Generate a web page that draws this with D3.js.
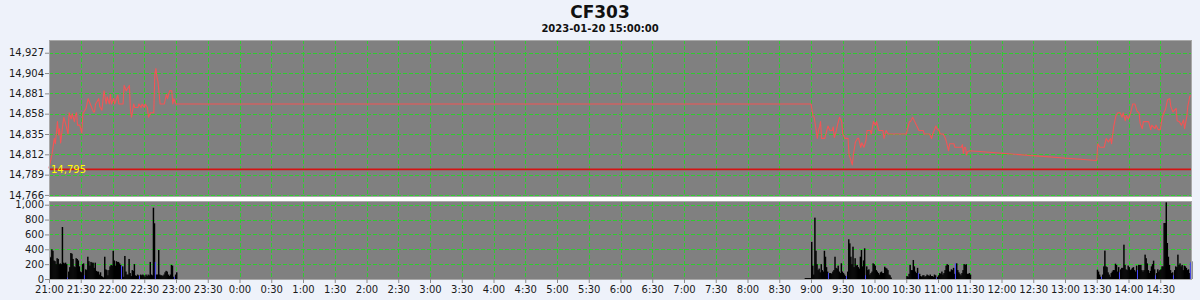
<!DOCTYPE html>
<html>
<head>
<meta charset="utf-8">
<script src="https://cdn.jsdelivr.net/npm/d3@7"></script>
<style>
  body { margin: 0; background: #eef2fa; }
  svg { display: block; font-family: "DejaVu Sans", sans-serif; }
</style>
</head>
<body>
<svg id="chart" width="1200" height="300"></svg>
<script>
// Chart text
const title = "CF303";
const subtitle = "2023-01-20 15:00:00";

// Axis ticks
const priceTicks = [14766, 14789, 14812, 14835, 14858, 14881, 14904, 14927];
const volumeTicks = [0, 200, 400, 600, 800, 1000];
const refPrice = 14795;

// Price line (minute closes, night session then day session)
const priceTimes = [
  "21:00","21:03","21:05","21:06","21:08","21:09","21:10","21:11","21:13","21:14",
  "21:16","21:18","21:19","21:21","21:22","21:24","21:25","21:26","21:27","21:29",
  "21:31","21:32","21:35","21:37","21:39","21:42","21:43","21:44","21:47","21:48",
  "21:50","21:52","21:54","21:55","21:57","21:58","21:59","22:01","22:02","22:05",
  "22:06","22:10","22:11","22:13","22:14","22:16","22:17","22:18","22:20","22:21",
  "22:24","22:25","22:27","22:28","22:30","22:31","22:33","22:34","22:36","22:39",
  "22:40","22:41","22:42","22:43","22:45","22:49","22:51","22:52","22:54","22:56",
  "22:57","22:58","23:00",
  "9:00","9:02","9:03","9:06","9:07","9:08","9:09","9:10","9:13","9:15",
  "9:16","9:18","9:20","9:21","9:22","9:24","9:25","9:27","9:29","9:30",
  "9:32","9:35","9:36","9:37","9:39","9:40","9:42","9:44","9:45","9:47",
  "9:48","9:50","9:52","9:53","9:56","9:57","9:59","10:01","10:02","10:04",
  "10:08","10:09","10:11","10:13","10:30","10:33","10:34","10:36","10:38","10:40",
  "10:42","10:46","10:47","10:52","10:54","10:55","10:58","10:59","11:01","11:02",
  "11:05","11:07","11:08","11:10","11:11","11:15","11:16","11:22","11:23","11:24",
  "11:25","11:26","11:27","11:28","11:30",
  "13:30","13:31","13:33","13:37","13:39","13:41","13:43","13:44","13:46","13:48",
  "13:50","13:52","13:54","13:55","13:57","13:58","14:00","14:02","14:04","14:06",
  "14:08","14:10","14:11","14:13","14:14","14:19","14:21","14:22","14:25","14:26",
  "14:28","14:30","14:32","14:33","14:35","14:36","14:37","14:39","14:40","14:42",
  "14:45","14:46","14:48","14:50","14:52","14:53","14:55","14:56","14:58","14:59"
];
const priceValues = [
  14796,14813,14830,14824,14849,14834,14841,14825,14845,14854,
  14845,14835,14859,14852,14858,14849,14856,14859,14845,14845,
  14836,14858,14864,14875,14869,14860,14860,14869,14875,14866,
  14862,14884,14869,14877,14869,14880,14869,14875,14869,14879,
  14869,14869,14890,14884,14886,14890,14862,14854,14869,14865,
  14865,14869,14865,14869,14865,14869,14865,14854,14859,14859,
  14903,14909,14899,14894,14869,14869,14880,14875,14884,14884,
  14869,14875,14869,
  14869,14855,14854,14830,14839,14843,14849,14830,14830,14839,
  14844,14839,14839,14843,14831,14839,14845,14854,14849,14835,
  14830,14830,14811,14808,14800,14811,14826,14830,14830,14820,
  14825,14820,14828,14839,14839,14835,14849,14845,14849,14839,
  14839,14830,14839,14835,14835,14849,14849,14854,14849,14844,
  14839,14839,14835,14835,14830,14835,14844,14841,14839,14835,
  14835,14830,14826,14816,14824,14824,14820,14820,14823,14813,
  14820,14820,14811,14815,14816,
  14805,14824,14820,14820,14830,14826,14830,14824,14843,14855,
  14859,14859,14854,14859,14850,14856,14852,14859,14869,14869,
  14861,14859,14847,14841,14849,14849,14840,14845,14841,14845,
  14840,14840,14854,14858,14863,14869,14874,14875,14866,14860,
  14864,14850,14849,14845,14851,14841,14854,14866,14878,14878
];

// Volume per minute, one array per trading segment
const volStarts = ["21:00", "8:54", "9:00", "10:30", "13:30"];
const volNight = [
  300,290,400,380,250,240,200,280,270,200,210,200,700,220,210,220,200,20,100,160,
  350,340,270,170,160,280,270,250,170,100,90,200,210,50,130,120,300,240,180,230,
  220,220,150,220,110,100,100,60,90,40,30,20,300,130,120,50,120,170,190,180,
  380,250,180,240,230,230,210,190,180,170,30,310,100,60,60,270,80,40,120,110,
  200,50,40,60,50,40,60,50,60,50,30,60,40,60,50,230,60,50,960,750,
  230,60,60,390,60,50,50,40,60,90,110,100,60,40,60,190,180,30,30,60,90
];
const volPreOpen = [12, 12, 12, 12, 12, 12];
const volMorning1 = [
  500,180,60,826,380,200,120,140,90,200,120,100,380,300,160,100,80,80,80,70,
  100,120,300,150,140,180,100,80,211,100,80,60,40,40,100,534,480,300,200,435,
  160,280,180,190,160,140,300,390,170,250,413,50,170,120,130,60,80,100,211,200,
  180,120,100,80,60,90,100,80,80,166,150,140,120,60,50,20
];
const volMorning2 = [
  40,30,70,190,120,120,256,170,100,80,150,80,70,40,30,50,50,30,40,60,
  50,40,60,40,40,30,60,50,20,30,50,80,70,100,60,80,120,180,200,190,
  100,100,130,120,150,70,211,211,120,90,70,50,80,120,200,190,200,70,70,80,60
];
const volAfternoon = [
  125,100,60,30,30,60,170,382,170,160,90,60,30,80,100,120,120,206,190,100,
  160,90,130,150,150,462,190,130,120,180,160,120,130,150,160,120,100,180,120,190,
  190,190,120,100,120,328,280,210,120,80,110,170,200,247,130,50,80,130,100,120,
  130,170,170,754,754,1032,485,300,190,120,80,90,50,120,170,160,328,190,210,170,
  190,120,180,170,150,120,130,80,224,238
];
const blueBarTimes = [
  "21:17","21:33","22:08","22:25","22:40","22:58",
  "9:16","9:33","9:51","10:41","10:58","11:16",
  "13:34","13:51","14:08","14:25","14:42","14:58"
];

// Turn "H:MM" into a date: evening hours belong to the previous day
function parseT(s) {
  const [h, m] = s.split(":").map(Number);
  return new Date(2023, 0, h >= 21 ? 19 : 20, h, m);
}
function addMin(d, n) {
  return new Date(d.getTime() + n * 60000);
}

const svg = d3.select("#chart");
const left = 49, right = 1192;
const priceTop = 40, priceBottom = 197;
const volTop = 201, volBottom = 279;
const gridColor = "#2fcc2f";

const x = d3.scaleTime()
  .domain([parseT("21:00"), parseT("15:00")])
  .range([left, right]);
const yPrice = d3.scaleLinear().domain([14763.7, 14941.4]).range([priceBottom, priceTop]);
const yVol = d3.scaleLinear().domain([0, 1050]).range([volBottom, volTop]);

const timeTicks = d3.timeMinute.every(30).range(parseT("21:00"), parseT("15:00"));

// Titles
svg.append("text").attr("x", 600).attr("y", 18).attr("text-anchor", "middle")
  .attr("font-size", 17).attr("font-weight", "bold").attr("fill", "#111").text(title);
svg.append("text").attr("x", 600).attr("y", 32).attr("text-anchor", "middle")
  .attr("font-size", 10).attr("font-weight", "bold").attr("fill", "#111").text(subtitle);

// Panel backgrounds
svg.append("rect").attr("x", left).attr("y", priceTop)
  .attr("width", right - left).attr("height", priceBottom - priceTop).attr("fill", "#808080");
svg.append("rect").attr("x", left).attr("y", priceBottom)
  .attr("width", right - left).attr("height", volTop - priceBottom).attr("fill", "#ffffff");
svg.append("rect").attr("x", left).attr("y", volTop)
  .attr("width", right - left).attr("height", volBottom - volTop).attr("fill", "#808080");

// Grid lines
const grid = svg.append("g").attr("stroke", gridColor).attr("stroke-width", 1)
  .attr("stroke-dasharray", "4,2").attr("shape-rendering", "crispEdges");
grid.selectAll(".hp").data(priceTicks).join("line")
  .attr("x1", left).attr("x2", right)
  .attr("y1", d => Math.round(yPrice(d)) + 0.5).attr("y2", d => Math.round(yPrice(d)) + 0.5);
grid.selectAll(".hv").data(volumeTicks.slice(1)).join("line")
  .attr("x1", left).attr("x2", right)
  .attr("y1", d => Math.round(yVol(d)) + 0.5).attr("y2", d => Math.round(yVol(d)) + 0.5);
[[priceTop, priceBottom], [volTop, volBottom]].forEach(([t, b]) => {
  grid.append("g").selectAll("line").data(timeTicks.slice(1)).join("line")
    .attr("x1", d => Math.round(x(d)) + 0.5).attr("x2", d => Math.round(x(d)) + 0.5)
    .attr("y1", t).attr("y2", b);
});

// Reference price line and label
svg.append("line").attr("x1", left).attr("x2", right)
  .attr("y1", yPrice(refPrice)).attr("y2", yPrice(refPrice))
  .attr("stroke", "#d41414").attr("stroke-width", 1.6);
svg.append("text").attr("x", left + 2).attr("y", yPrice(refPrice) + 3.5)
  .attr("font-size", 10).attr("fill", "#ffff00").text(d3.format(",")(refPrice));

// Price line
const priceData = priceTimes.map((t, i) => ({ t: parseT(t), v: priceValues[i] }));
const line = d3.line().x(d => x(d.t)).y(d => yPrice(d.v));
svg.append("path").datum(priceData)
  .attr("fill", "none").attr("stroke", "#f25555").attr("stroke-width", 1.1)
  .attr("stroke-linejoin", "round").attr("d", line);

// Volume bars
const blueSet = new Set(blueBarTimes.map(t => +parseT(t)));
const volArrays = [volNight, volPreOpen, volMorning1, volMorning2, volAfternoon];
const volData = [];
volArrays.forEach((arr, k) => {
  const start = parseT(volStarts[k]);
  arr.forEach((v, i) => volData.push({ t: addMin(start, i), v: v }));
});
svg.append("g").selectAll("rect").data(volData).join("rect")
  .attr("x", d => x(d.t))
  .attr("width", d => blueSet.has(+d.t) ? 1 : x(addMin(d.t, 1)) - x(d.t) + 0.4)
  .attr("y", d => yVol(d.v))
  .attr("height", d => Math.max(0.8, volBottom - yVol(d.v)))
  .attr("fill", d => blueSet.has(+d.t) ? "#4646ff" : "#000000");

// Panel borders
svg.append("rect").attr("x", left + 0.5).attr("y", priceTop + 0.5)
  .attr("width", right - left - 1).attr("height", priceBottom - priceTop - 1)
  .attr("fill", "none").attr("stroke", "#a8a8a8");
svg.append("rect").attr("x", left + 0.5).attr("y", volTop + 0.5)
  .attr("width", right - left - 1).attr("height", volBottom - volTop)
  .attr("fill", "none").attr("stroke", "#a8a8a8");

// Axes
function styleAxis(g) {
  g.select(".domain").remove();
  g.selectAll(".tick line").attr("stroke", "#8a8a8a");
  g.selectAll(".tick text").attr("fill", "#1a1a1a")
    .attr("font-size", 10).attr("font-family", "DejaVu Sans, sans-serif");
}
svg.append("g").attr("transform", `translate(${left},0)`)
  .call(d3.axisLeft(yPrice).tickValues(priceTicks).tickFormat(d3.format(","))
    .tickSize(4).tickPadding(1))
  .call(styleAxis);
svg.append("g").attr("transform", `translate(${left},0)`)
  .call(d3.axisLeft(yVol).tickValues(volumeTicks).tickFormat(d3.format(","))
    .tickSize(4).tickPadding(1))
  .call(styleAxis);
svg.append("g").attr("transform", `translate(0,${volBottom})`)
  .call(d3.axisBottom(x).tickValues(timeTicks).tickFormat(d3.timeFormat("%-H:%M"))
    .tickSize(4).tickPadding(3))
  .call(styleAxis);
</script>
</body>
</html>
